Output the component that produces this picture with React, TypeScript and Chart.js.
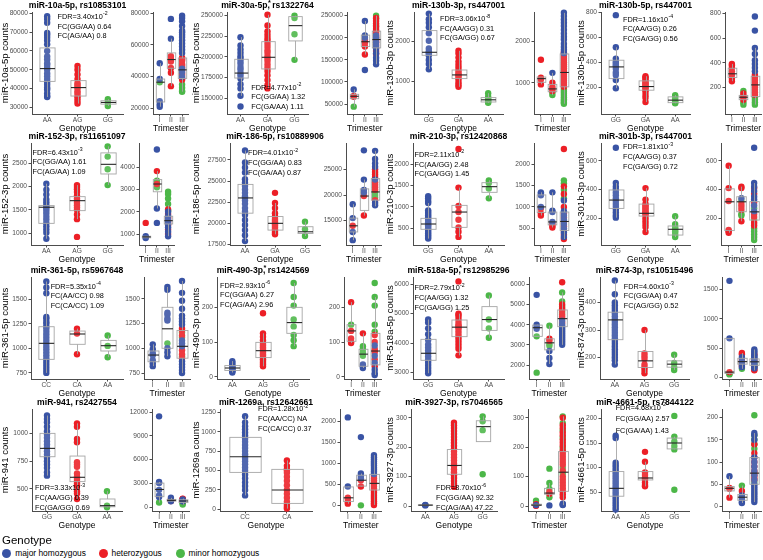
import React, { useEffect, useRef } from 'react';
import { Chart, registerables } from 'chart.js';

Chart.register(...registerables);

const FONT = '"Liberation Sans", Arial, Helvetica, sans-serif';
const COLORS = ['#3953a4', '#ec1f26', '#4cb748'];
const AXIS = '#4d4d4d';
const TICK_TEXT = '#4d4d4d';
const BOX_LINE = '#a6a6a6';
const BOX_FILL = 'rgba(255,255,255,0.12)';
const MEDIAN = '#262626';

const TRIMESTERS = ['I', 'II', 'III'];
const LEGEND_LABELS = ['major homozygous', 'heterozygous', 'minor homozygous'];

// ---------- 1: miR-10a-5p ----------
const m10aLabels = ['AA', 'AG', 'GG'];
const m10aGeno = [
  [78500, 77000, 75000, 69500, 68500, 67000, 65500, 63500, 60000, 57000, 55500, 53500, 52500, 51000, 50000, 48000, 46500, 45000, 43500, 42000, 40500, 39500, 37500, 36000, 35500],
  [52000, 50000, 47500, 45000, 43000, 42000, 41000, 40000, 38500, 37500, 36000, 35000, 33500, 32000],
  [34300, 32600, 30700],
];
const m10aGenoBox = [[35500, 43800, 50600, 61600, 78500], [32000, 36000, 40500, 44200, 52000], [30700, 31700, 32600, 33500, 34300]];
const m10aGenoTicks = [30000, 40000, 50000, 60000, 70000, 80000];
const m10aTri = [
  [[48500, 38500, 24500, 22500, 21000], [], [36500]],
  [[76500, 64000], [53000, 51500, 50500, 49500, 45500, 42500, 34000], []],
  [[78500, 77000, 75000, 72000, 69000, 68000, 66500, 65000, 63000, 61000, 59000, 57000, 55000, 45000, 43000, 40000], [52000, 51000, 50000, 48000, 47000, 46000, 44000, 42000, 41000, 39000, 38000], [35000, 33000, 31000, 30500]],
];
const m10aTriBox = [[21000, 24000, 36500, 38500, 48500], [34000, 45300, 50800, 55000, 64000], [30500, 38800, 44300, 51800, 72000]];
const m10aTriTicks = [20000, 40000, 60000, 80000];
const m10aNotes = ['FDR=3.40x10^-2', 'FC(GG/AA) 0.64', 'FC(AG/AA) 0.8'];

// ---------- 2: miR-30a-5p ----------
const m30aLabels = ['AA', 'GA', 'GG'];
const m30aGeno = [
  [224000, 214000, 209000, 205000, 201000, 198000, 195000, 192000, 188000, 185000, 181000, 178000, 174000, 167000, 162000, 153000, 140000],
  [251000, 238000, 231000, 227000, 223000, 220000, 216000, 212000, 208000, 205000, 201000, 198000, 195000, 191000, 187000, 183000, 178000, 172000, 166000, 162000],
  [250000, 247000, 227500, 196500],
];
const m30aGenoBox = [[153000, 174500, 180500, 197200, 224000], [162000, 185500, 199600, 218500, 251000], [196500, 219400, 237900, 248800, 250000]];
const m30aGenoTicks = [150000, 175000, 200000, 225000, 250000];
const m30aTri = [
  [[83000], [68500, 66500], [44000]],
  [[238000, 205000, 200000, 127000], [197000, 192000, 188000, 180000, 162000], []],
  [[205000, 200000, 190000, 182000, 175000, 165000, 155000, 148000, 140000], [245000, 238000, 232000, 225000, 220000, 215000, 210000, 206000, 202000, 198000, 194000, 190000, 185000, 178000, 170000, 163000], [250000, 243000, 228000, 215000, 200000]],
];
const m30aTriBox = [[44000, 62000, 67500, 72000, 83000], [162000, 180000, 191000, 206000, 238000], [140000, 177000, 196000, 215000, 250000]];
const m30aTriTicks = [50000, 100000, 150000, 200000, 250000];
const m30aNotes = ['FDR=4.77x10^-2', 'FC(GG/AA) 1.32', 'FC(GA/AA) 1.11'];

// ---------- 3: miR-130b-3p ----------
const m130b3Labels = ['GG', 'GA', 'AA'];
const m130b3Geno = [
  [2700, 2560, 2470, 2360, 2210, 2020, 1830, 1760, 1720, 1700, 1650, 1540, 1440, 1310],
  [1770, 1700, 1600, 1500, 1420, 1350, 1280, 1220, 1180, 1150, 1100, 1050, 980, 920, 870],
  [710, 620, 580, 550, 520, 490, 470],
];
const m130b3GenoBox = [[1310, 1658, 1733, 2275, 2700], [870, 1075, 1167, 1290, 1770], [470, 490, 545, 600, 710]];
const m130b3GenoTicks = [1000, 2000];
const m130b3Tri = [
  [[], [1560, 1120, 1080, 960], []],
  [[1240], [1000, 900, 850, 800], [760, 700]],
  [[2700, 2620, 2540, 2460, 2380, 2290, 2200, 2120, 2050, 1950, 1870, 1800, 1720], [1750, 1700, 1650, 1600, 1550, 1500, 1450, 1400, 1350, 1300, 1250, 1200, 1150, 1100, 1050, 1000, 950, 900], [850, 800, 750, 700, 650, 600, 560, 520, 490]],
];
const m130b3TriBox = [[960, 1010, 1100, 1140, 1140], [700, 780, 850, 960, 1240], [490, 900, 1250, 1700, 2700]];
const m130b3TriTicks = [1000, 2000];
const m130b3Notes = ['FDR=3.06x10^-8', 'FC(AA/GG) 0.31', 'FC(GA/GG) 0.67'];

// ---------- 4: miR-130b-5p ----------
const m130b5Labels = ['GG', 'GA', 'AA'];
const m130b5Geno = [
  [775, 520, 430, 405, 395, 380, 370, 350, 320, 300, 260, 195],
  [290, 280, 270, 255, 245, 235, 225, 215, 205, 195, 180, 165, 140, 120, 85],
  [140, 130, 115, 100, 90, 80, 75],
];
const m130b5GenoBox = [[195, 271, 364, 417, 520], [85, 179, 208, 253, 290], [75, 80, 100, 126, 140]];
const m130b5GenoTicks = [200, 400, 600, 800];
const m130b5Tri = [
  [[], [390, 380, 360, 330, 300, 270, 250], []],
  [[], [150, 130, 120, 100], [170, 80, 60]],
  [[775, 660, 520, 470, 420, 390, 360, 330], [300, 280, 260, 240, 220, 200, 180, 160, 140], [120, 100, 80, 60]],
];
const m130b5TriBox = [[250, 280, 310, 355, 390], [60, 100, 120, 135, 170], [60, 125, 220, 290, 520]];
const m130b5TriTicks = [200, 400, 600, 800];
const m130b5Notes = ['FDR=1.16x10^-4', 'FC(AA/GG) 0.26', 'FC(GA/GG) 0.56'];

// ---------- 5: miR-152-3p ----------
const m152Labels = ['AA', 'AG', 'GG'];
const m152Geno = [
  [2060, 1930, 1830, 1720, 1660, 1600, 1560, 1530, 1480, 1420, 1350, 1290, 1220, 1150, 1080, 1010, 880],
  [2030, 1990, 1940, 1880, 1800, 1740, 1700, 1650, 1600, 1550, 1500, 1400, 1300, 920],
  [2860, 2640, 2370, 2030],
];
const m152GenoBox = [[880, 1210, 1555, 1590, 2060], [1300, 1482, 1696, 1782, 2030], [2030, 2268, 2475, 2720, 2860]];
const m152GenoTicks = [1000, 1500, 2000, 2500];
const m152Tri = [
  [[900, 860, 820], [1500], []],
  [[4800, 2150, 1500], [3830, 3250], [3400, 3350, 3100]],
  [[2000, 1800, 1650, 1550, 1450, 1300, 1100, 900], [2100, 1900, 1750, 1700, 1600, 1500, 1400, 1200, 1000], [2900, 2800, 2600, 2350, 2050]],
];
const m152TriBox = [[820, 830, 870, 900, 900], [2150, 2900, 3250, 3450, 3830], [900, 1450, 1600, 1800, 2300]];
const m152TriTicks = [1000, 2000, 3000, 4000];
const m152Notes = ['FDR=6.43x10^-3', 'FC(GG/AA) 1.61', 'FC(AG/AA) 1.09'];

// ---------- 6: miR-186-5p ----------
const m186Labels = ['AA', 'GA', 'GG'];
const m186Geno = [
  [28600, 27200, 26600, 26000, 25200, 24800, 24400, 24000, 23600, 23200, 23000, 22700, 22300, 21800, 21400, 21000, 20400, 19800, 19200, 18600, 17900],
  [23600, 22400, 21800, 21200, 20800, 20500, 20300, 20100, 19900, 19700, 19500, 19300, 19100, 18900, 18700],
  [20200, 19300, 18500],
];
const m186GenoBox = [[17900, 21200, 23000, 24600, 28600], [18700, 19200, 20000, 20800, 22400], [18500, 18800, 19000, 19600, 20200]];
const m186GenoTicks = [17500, 20000, 22500, 25000, 27500];
const m186Tri = [
  [[18200, 15500, 12800, 11200], [14000], []],
  [[28700, 23000, 21000, 20500], [19800, 16000], []],
  [[28600, 27000, 26200, 25500, 23000, 18500, 18000], [25000, 24500, 24000, 23500, 22500, 22000, 21500, 21000, 19000], [20500, 20000, 19500]],
];
const m186TriBox = [[11200, 12800, 14000, 15500, 18200], [16000, 17000, 19800, 21200, 23000], [17800, 19000, 20600, 23200, 28600]];
const m186TriTicks = [15000, 20000, 25000];
const m186Notes = ['FDR=4.01x10^-2', 'FC(GG/AA) 0.83', 'FC(GA/AA) 0.87'];

// ---------- 7: miR-210-3p ----------
const m210Labels = ['GG', 'GA', 'AA'];
const m210Geno = [
  [1250, 1200, 1140, 1090, 920, 880, 840, 800, 760, 720, 680, 640, 600, 570, 540, 500, 460, 420, 380, 340, 300, 260],
  [2350, 1450, 1020, 880, 700, 520, 420, 300],
  [1620, 1560, 1430, 1200],
];
const m210GenoBox = [[260, 477, 601, 733, 1090], [300, 523, 880, 1036, 1450], [1200, 1340, 1472, 1565, 1620]];
const m210GenoTicks = [500, 1000, 1500, 2000];
const m210Tri = [
  [[1340, 1310, 1270, 1000], [960, 850, 800], []],
  [[1340, 910, 880, 650], [600, 560, 520], []],
  [[1150, 900, 800, 700, 600, 500, 400, 300], [2350, 1480, 1300, 1000, 850, 750, 650, 550, 450, 350, 250], [1620, 1550, 1400, 1200]],
];
const m210TriBox = [[800, 870, 1000, 1280, 1340], [520, 580, 650, 880, 1340], [250, 450, 660, 880, 1480]];
const m210TriTicks = [500, 1000, 1500, 2000];
const m210Notes = ['FDR=2.11x10^-2', 'FC(AA/GG) 2.48', 'FC(GA/GG) 1.45'];

// ---------- 8: miR-301b-3p ----------
const m301Labels = ['GG', 'GA', 'AA'];
const m301Geno = [
  [690, 445, 420, 400, 380, 360, 340, 320, 300, 280, 260, 240, 220, 205],
  [410, 330, 300, 290, 280, 270, 260, 250, 240, 230, 220, 200, 180, 160, 140, 105],
  [215, 160, 140, 130, 120, 110, 100, 85, 70],
];
const m301GenoBox = [[205, 269, 327, 397, 445], [105, 216, 235, 299, 410], [70, 84, 124, 147, 215]];
const m301GenoTicks = [200, 400, 600];
const m301Tri = [
  [[], [565, 410, 320, 120, 110, 100], []],
  [[340], [420, 410, 300, 280, 260, 180], [320, 230, 220]],
  [[690, 445, 420, 390, 350, 330, 290, 250], [410, 370, 310, 230, 210, 170, 150], [270, 190, 130, 110, 90, 70, 50]],
];
const m301TriBox = [[100, 115, 315, 405, 565], [180, 246, 315, 350, 420], [50, 188, 245, 316, 445]];
const m301TriTicks = [200, 400, 600];
const m301Notes = ['FDR=1.81x10^-3', 'FC(AA/GG) 0.37', 'FC(GA/GG) 0.72'];

// ---------- 9: miR-361-5p ----------
const m361Labels = ['CC', 'CA', 'AA'];
const m361Geno = [
  [1680, 1620, 1560, 1320, 1300, 1270, 1250, 1220, 1200, 1170, 1140, 1110, 1080, 1050, 1020, 990, 960, 930, 900, 870, 840, 810, 780, 750],
  [1200, 1150, 940],
  [1130, 1025, 910],
];
const m361GenoBox = [[750, 888, 1051, 1220, 1680], [940, 1041, 1146, 1176, 1200], [910, 973, 1027, 1081, 1130]];
const m361GenoTicks = [750, 1000, 1250, 1500];
const m361Tri = [
  [[1040, 990, 950, 930, 880, 850, 820], [], []],
  [[1620, 1590, 1360, 1340, 1300, 1280, 1000, 960, 920], [], [1050]],
  [[1680, 1560, 1480, 1400, 1330, 1300, 1270, 1240, 1080, 1050, 1020, 870, 840, 810, 780, 750], [1200, 1180, 1130, 980, 940, 900], [1160, 1110, 920]],
];
const m361TriBox = [[820, 864, 932, 973, 1040], [920, 1000, 1197, 1414, 1620], [750, 900, 1020, 1180, 1680]];
const m361TriTicks = [750, 1000, 1250, 1500];
const m361Notes = ['FDR=5.35x10^-4', 'FC(AA/CC) 0.98', 'FC(CA/CC) 1.09'];

// ---------- 10: miR-490-3p ----------
const m490Labels = ['AA', 'AG', 'GG'];
const m490Geno = [
  [45, 40, 35, 30, 27, 25, 22, 20, 18, 15, 12],
  [183, 125, 115, 105, 95, 90, 85, 80, 75, 70, 65, 60, 55, 50, 45, 40, 35, 30],
  [270, 230, 205, 165, 145, 120, 105, 88],
];
const m490GenoBox = [[12, 18, 25, 32, 45], [30, 55, 75, 99, 125], [88, 125, 156, 200, 270]];
const m490GenoTicks = [0, 100, 200];
const m490Tri = [
  [[], [215, 132, 110, 100, 97], [150]],
  [[35, 30, 25], [125], [88, 80, 70, 60]],
  [[90, 60, 40, 20, 10, 5], [120, 100, 80, 75, 70, 50, 30], [270, 230, 205, 150, 130]],
];
const m490TriBox = [[97, 102, 132, 150, 215], [25, 30, 65, 79, 125], [5, 34, 74, 125, 230]];
const m490TriTicks = [0, 100, 200];
const m490Notes = ['FDR=2.93x10^-6', 'FC(GG/AA) 6.27', 'FC(AG/AA) 2.96'];

// ---------- 11: miR-518a-5p ----------
const m518Labels = ['GG', 'GA', 'AA'];
const m518Geno = [
  [4800, 4700, 4500, 4300, 4100, 3950, 3850, 3750, 3650, 3550, 3450, 3350, 3250, 3150, 3050, 2970],
  [6100, 5000, 4950, 4850, 4750, 4650, 4600, 4550, 4500, 4400, 4300, 4200, 4100, 4000, 3900, 3800, 3580],
  [5620, 4800, 4500, 4180],
];
const m518GenoBox = [[2970, 3410, 3650, 4125, 4800], [3580, 4216, 4540, 4784, 5000], [4180, 4430, 4800, 5240, 5620]];
const m518GenoTicks = [3000, 4000, 5000, 6000];
const m518Tri = [
  [[5480, 4000, 3900, 3800], [], [3420, 1620]],
  [[2700, 2350, 2050], [3300, 3200], [3950, 3050, 2950]],
  [[4200, 4000, 3900, 3800, 3700, 3600, 3500, 3400, 3300, 3200, 3100, 3000], [6100, 5000, 4800, 4700, 4500, 4400, 4300, 4100], [5600, 5150, 4900, 4600]],
];
const m518TriBox = [[3400, 3420, 3850, 3980, 4000], [2050, 2750, 3100, 3300, 3950], [3000, 3900, 4300, 4730, 5600]];
const m518TriTicks = [2000, 3000, 4000, 5000, 6000];
const m518Notes = ['FDR=2.79x10^-2', 'FC(AA/GG) 1.32', 'FC(GA/GG) 1.25'];

// ---------- 12: miR-874-3p ----------
const m874Labels = ['AA', 'AG', 'GG'];
const m874Geno = [
  [480, 430, 400, 390, 380, 370, 360, 350, 340, 330, 320, 310, 300, 290, 280, 270, 260, 250, 240, 230, 220, 210, 200, 190, 175],
  [300, 215, 205, 195, 175, 165, 155, 143],
  [210, 180, 165, 155],
];
const m874GenoBox = [[175, 265, 337, 365, 480], [143, 164, 188, 222, 300], [155, 165, 176, 188, 210]];
const m874GenoTicks = [200, 300, 400];
const m874Tri = [
  [[1650, 670], [95], [65, 55]],
  [[350, 280, 220, 180], [420, 400, 300, 260, 200], [240, 150]],
  [[480, 450, 420, 380, 360, 340, 320, 280, 260, 220, 180, 160], [400, 300, 200, 140, 125], [240, 220, 200, 180]],
];
const m874TriBox = [[55, 70, 95, 670, 670], [150, 230, 273, 330, 420], [125, 210, 270, 320, 480]];
const m874TriTicks = [0, 500, 1000, 1500];
const m874Notes = ['FDR=4.60x10^-3', 'FC(GG/AA) 0.47', 'FC(AG/GG) 0.52'];

// ---------- 13: miR-941 ----------
const m941Labels = ['GG', 'GA', 'AA'];
const m941Geno = [
  [1160, 1130, 1100, 1060, 1020, 990, 960, 930, 900, 870, 840, 810, 780, 750, 720, 690, 650, 620],
  [1090, 1060, 950, 920, 740, 720, 700, 640, 610, 590, 570, 550, 530, 480, 460, 410],
  [480, 350, 335],
];
const m941GenoBox = [[620, 790, 865, 1000, 1160], [410, 566, 605, 796, 1090], [335, 340, 350, 410, 480]];
const m941GenoTicks = [500, 750, 1000];
const m941Tri = [
  [[11450, 3200, 3050, 2200, 1500, 1300], [], [600]],
  [[1200, 750], [1000, 900, 850, 800], []],
  [[1000, 750], [1100, 1050, 950, 900, 800], [650, 500, 350]],
];
const m941TriBox = [[600, 1340, 2250, 3050, 3200], [750, 780, 880, 1000, 1200], [350, 600, 800, 950, 1100]];
const m941TriTicks = [0, 3000, 6000, 9000, 12000];
const m941Notes = ['FDR=3.33x10^-3', 'FC(AA/GG) 0.39', 'FC(GA/GG) 0.69'];

// ---------- 14: miR-1269a ----------
const m1269Labels = ['CC', 'CA'];
const m1269Geno = [
  [1200, 1120, 1070, 1030, 990, 950, 910, 870, 830, 790, 750, 710, 680, 650, 620, 580, 540, 500, 450, 400, 350, 300, 250, 180],
  [630, 560, 520, 500, 470, 420, 370, 310, 250, 200, 150, 100, 60, 30, 10],
];
const m1269GenoBox = [[180, 476, 678, 927, 1200], [10, 77, 249, 515, 630]];
const m1269GenoTicks = [0, 250, 500, 750, 1000, 1250];
const m1269Tri = [
  [[2100, 450], [180, 150, 80, 40], []],
  [[1630, 760, 700, 650], [600, 450], [0]],
  [[1200, 1150, 1100, 1050, 1000, 950, 900, 850, 800, 750], [700, 650, 600, 550, 500, 450, 400, 350, 300, 250, 200, 150, 100, 50, 10], []],
];
const m1269TriBox = [[40, 90, 180, 440, 450], [450, 460, 600, 720, 760], [10, 366, 525, 740, 1200]];
const m1269TriTicks = [0, 500, 1000, 1500, 2000];
const m1269Notes = ['FDR=1.28x10^-2', 'FC(AA/CC) NA', 'FC(CA/CC) 0.37'];

// ---------- 15: miR-3927-3p ----------
const m3927Labels = ['AA', 'AG', 'GG'];
const m3927Geno = [
  [4, 3, 2],
  [283, 275, 265, 255, 245, 235, 225, 215, 205, 195, 185, 175, 165, 155, 145, 135, 125, 115, 105, 95, 85, 75, 65],
  [305, 288, 258, 108],
];
const m3927GenoBox = [[2, 2.5, 3, 3.5, 4], [65, 108, 138, 192, 283], [219, 219, 270, 290, 305]];
const m3927GenoTicks = [0, 100, 200, 300];
const m3927Tri = [
  [[3], [6, 2, 1], [18]],
  [[2], [48, 42], [127, 78, 58, 30]],
  [[8, 5, 3], [300, 275, 265, 250, 240, 225, 215, 205, 190, 180, 170, 160, 150, 140, 120, 100, 90, 80, 70, 60, 50, 40, 30], [305, 282, 258, 232, 198, 130, 110]],
];
const m3927TriBox = [[1, 2, 3, 6, 6], [29, 40, 44, 60, 78], [3, 50, 115, 185, 305]];
const m3927TriTicks = [0, 100, 200, 300];
const m3927Notes = ['FDR=8.70x10^-6', 'FC(GG/AA) 92.32', 'FC(AG/AA) 47.22'];

// ---------- 16: miR-4661-5p ----------
const m4661Labels = ['AA', 'AG', 'GG'];
const m4661Geno = [
  [165, 160, 110, 105, 100, 95, 90, 85, 80, 75, 70, 65, 60, 55, 50, 45, 40, 35, 30, 25, 20, 15],
  [132, 112, 90, 85, 80, 78, 75, 70, 65, 62],
  [205, 163, 153, 144, 137, 55],
];
const m4661GenoBox = [[15, 42, 58, 92, 160], [62, 75, 79, 92, 112], [137, 138, 150, 160, 163]];
const m4661GenoTicks = [50, 100, 150, 200];
const m4661Tri = [
  [[68], [42, 40, 20], []],
  [[25, 20, 15, 10, 8], [35], [47]],
  [[165, 160, 150, 110, 100, 90, 80, 70, 60, 50, 45, 40, 35, 30, 25, 20, 15, 10], [140, 120, 110, 100, 90, 80, 75, 70, 65, 60], [205, 160, 150, 140, 130, 55]],
];
const m4661TriBox = [[20, 35, 41, 45, 68], [8, 14, 21, 27, 47], [10, 50, 75, 110, 165]];
const m4661TriTicks = [0, 50, 100, 150, 200];
const m4661Notes = ['FDR=4.68x10^-2', 'FC(GG/AA) 2.57', 'FC(GA/AA) 1.43'];

const PANELS = [
  { title: 'miR-10a-5p, rs10853101', yTitle: 'miR-10a-5p counts', labels: m10aLabels, geno: m10aGeno, genoBox: m10aGenoBox, genoTicks: m10aGenoTicks, tri: m10aTri, triBox: m10aTriBox, triTicks: m10aTriTicks, notes: m10aNotes },
  { title: 'miR-30a-5p*, rs1322764', yTitle: 'miR-30a-5p counts', labels: m30aLabels, geno: m30aGeno, genoBox: m30aGenoBox, genoTicks: m30aGenoTicks, tri: m30aTri, triBox: m30aTriBox, triTicks: m30aTriTicks, notes: m30aNotes },
  { title: 'miR-130b-3p, rs447001', yTitle: 'miR-130b-3p counts', labels: m130b3Labels, geno: m130b3Geno, genoBox: m130b3GenoBox, genoTicks: m130b3GenoTicks, tri: m130b3Tri, triBox: m130b3TriBox, triTicks: m130b3TriTicks, notes: m130b3Notes },
  { title: 'miR-130b-5p, rs447001', yTitle: 'miR-130b-5p counts', labels: m130b5Labels, geno: m130b5Geno, genoBox: m130b5GenoBox, genoTicks: m130b5GenoTicks, tri: m130b5Tri, triBox: m130b5TriBox, triTicks: m130b5TriTicks, notes: m130b5Notes },
  { title: 'miR-152-3p, rs11651097', yTitle: 'miR-152-3p counts', labels: m152Labels, geno: m152Geno, genoBox: m152GenoBox, genoTicks: m152GenoTicks, tri: m152Tri, triBox: m152TriBox, triTicks: m152TriTicks, notes: m152Notes },
  { title: 'miR-186-5p, rs10889906', yTitle: 'miR-186-5p counts', labels: m186Labels, geno: m186Geno, genoBox: m186GenoBox, genoTicks: m186GenoTicks, tri: m186Tri, triBox: m186TriBox, triTicks: m186TriTicks, notes: m186Notes },
  { title: 'miR-210-3p*, rs12420868', yTitle: 'miR-210-3p counts', labels: m210Labels, geno: m210Geno, genoBox: m210GenoBox, genoTicks: m210GenoTicks, tri: m210Tri, triBox: m210TriBox, triTicks: m210TriTicks, notes: m210Notes },
  { title: 'miR-301b-3p, rs447001', yTitle: 'miR-301b-3p counts', labels: m301Labels, geno: m301Geno, genoBox: m301GenoBox, genoTicks: m301GenoTicks, tri: m301Tri, triBox: m301TriBox, triTicks: m301TriTicks, notes: m301Notes },
  { title: 'miR-361-5p, rs5967648', yTitle: 'miR-361-5p counts', labels: m361Labels, geno: m361Geno, genoBox: m361GenoBox, genoTicks: m361GenoTicks, tri: m361Tri, triBox: m361TriBox, triTicks: m361TriTicks, notes: m361Notes },
  { title: 'miR-490-3p*, rs1424569', yTitle: 'miR-490-3p counts', labels: m490Labels, geno: m490Geno, genoBox: m490GenoBox, genoTicks: m490GenoTicks, tri: m490Tri, triBox: m490TriBox, triTicks: m490TriTicks, notes: m490Notes },
  { title: 'miR-518a-5p*, rs12985296', yTitle: 'miR-518a-5p counts', labels: m518Labels, geno: m518Geno, genoBox: m518GenoBox, genoTicks: m518GenoTicks, tri: m518Tri, triBox: m518TriBox, triTicks: m518TriTicks, notes: m518Notes },
  { title: 'miR-874-3p, rs10515496', yTitle: 'miR-874-3p counts', labels: m874Labels, geno: m874Geno, genoBox: m874GenoBox, genoTicks: m874GenoTicks, tri: m874Tri, triBox: m874TriBox, triTicks: m874TriTicks, notes: m874Notes },
  { title: 'miR-941, rs2427554', yTitle: 'miR-941 counts', labels: m941Labels, geno: m941Geno, genoBox: m941GenoBox, genoTicks: m941GenoTicks, tri: m941Tri, triBox: m941TriBox, triTicks: m941TriTicks, notes: m941Notes },
  { title: 'miR-1269a, rs12642661', yTitle: 'miR-1269a counts', labels: m1269Labels, geno: m1269Geno, genoBox: m1269GenoBox, genoTicks: m1269GenoTicks, tri: m1269Tri, triBox: m1269TriBox, triTicks: m1269TriTicks, notes: m1269Notes },
  { title: 'miR-3927-3p, rs7046565', yTitle: 'miR-3927-3p counts', labels: m3927Labels, geno: m3927Geno, genoBox: m3927GenoBox, genoTicks: m3927GenoTicks, tri: m3927Tri, triBox: m3927TriBox, triTicks: m3927TriTicks, notes: m3927Notes },
  { title: 'miR-4661-5p, rs7844122', yTitle: 'miR-4661-5p counts', labels: m4661Labels, geno: m4661Geno, genoBox: m4661GenoBox, genoTicks: m4661GenoTicks, tri: m4661Tri, triBox: m4661TriBox, triTicks: m4661TriTicks, notes: m4661Notes },
];

// ---------- layout (pixel geometry, axis ranges, note anchors) ----------
const PLOT_TOPS = [12, 143, 277, 409];
const PLOT_H = 102;
const TOP_PAD = 14;
const X_AXIS_H = 22;
const CANVAS_H = TOP_PAD + PLOT_H + X_AXIS_H;
const BLOCK_LEFT = [0, 191, 385, 576];
const GENO_EXTRA = 40;
const LAYOUT = [
  { g: [32, 123], t: [153, 189], gy: [26450, 80700], ty: [16400, 80850], note: [1.34, 78050, 9.6] },
  { g: [227, 308], t: [347, 383], gy: [131000, 254400], ty: [27400, 258300], note: [1.4, 162900, 9.6] },
  { g: [414, 503], t: [534, 571], gy: [190, 2740], ty: [240, 2720], note: [1.38, 2558, 9.6] },
  { g: [601, 690], t: [725, 762], gy: [-10, 800], ty: [-16, 811], note: [1.24, 739, 9.6] },
  { g: [31, 123], t: [139, 175], gy: [746, 2932], ty: [505, 5095], note: [0.55, 2725, 9.6] },
  { g: [230, 320], t: [346, 382], gy: [17440, 29490], ty: [10260, 30130], note: [1.1, 28268, 9.6] },
  { g: [413, 504], t: [534, 571], gy: [111, 2491], ty: [111, 2491], note: [0.55, 2211, 9.6] },
  { g: [601, 690], t: [721, 762], gy: [15, 723], ty: [15, 723], note: [1.24, 692, 9.6] },
  { g: [31, 123], t: [144, 191], gy: [688, 1726], ty: [690, 1720], note: [1.14, 1627, 9.6] },
  { g: [217, 309], t: [344, 382], gy: [-6.7, 287.5], ty: [-6.7, 287.5], note: [0.6, 262.5, 9.6] },
  { g: [413, 504], t: [529, 570], gy: [2773, 6250], ty: [1306, 6364], note: [0.55, 5864, 9.6] },
  { g: [600, 689], t: [722, 762], gy: [122, 493], ty: [-23, 1716], note: [1.3, 458, 9.6] },
  { g: [32, 122], t: [152, 190], gy: [302, 1219], ty: [-462, 12378], note: [0.6, 506, 9.6] },
  { g: [220, 312], t: [340, 382], gy: [-21, 1292], ty: [-135, 2301], note: [1.31, 1287, 9.6] },
  { g: [411, 497], t: [528, 571], gy: [-17, 330], ty: [-17, 330], note: [1.37, 60, 9.6] },
  { g: [601, 689], t: [722, 762], gy: [12, 219], ty: [-10, 219], note: [1.0, 222, 11.5] },
];
const LEGEND_X = [6.7, 103, 180];

type Pt = { x: number; y: number };
type Spec = {
  left: number; top: number; width: number; axisW: number; padRight: number;
  labels: string[]; pts: Pt[][]; boxes: number[][];
  xMin: number; xMax: number; boxW: number;
  yMin: number; yMax: number; yTicks: number[];
  xTitle: string; yTitle?: string; title?: string; notes?: string[]; note?: number[];
};

function buildSpecs(): Spec[] {
  const specs: Spec[] = [];
  PANELS.forEach((p, i) => {
    const L = LAYOUT[i];
    const row = Math.floor(i / 4);
    const col = i % 4;
    const top = PLOT_TOPS[row] - TOP_PAD;
    const gPts: Pt[][] = [[], [], []];
    p.geno.forEach((vals, c) => vals.forEach((v) => gPts[c].push({ x: c + 1, y: v })));
    const n = p.labels.length;
    const gl = BLOCK_LEFT[col];
    specs.push({
      left: gl, top, width: L.g[1] + GENO_EXTRA - gl, axisW: L.g[0] - gl, padRight: GENO_EXTRA,
      labels: p.labels, pts: gPts, boxes: p.genoBox,
      xMin: n === 2 ? 0.4 : 0.5, xMax: n === 2 ? 2.6 : 3.5, boxW: n === 2 ? 0.75 : 0.5,
      yMin: L.gy[0], yMax: L.gy[1], yTicks: p.genoTicks,
      xTitle: 'Genotype', yTitle: p.yTitle, title: p.title, notes: p.notes, note: L.note,
    });
    const tPts: Pt[][] = [[], [], []];
    p.tri.forEach((byColor, t) => byColor.forEach((vals, c) => vals.forEach((v) => tPts[c].push({ x: t + 1, y: v }))));
    const tl = L.t[0] - 30;
    specs.push({
      left: tl, top, width: L.t[1] + 3 - tl, axisW: 30, padRight: 3,
      labels: TRIMESTERS, pts: tPts, boxes: p.triBox,
      xMin: 0.4, xMax: 3.6, boxW: 0.75,
      yMin: L.ty[0], yMax: L.ty[1], yTicks: p.triTicks,
      xTitle: 'Trimester',
    });
  });
  return specs;
}

const SPECS = buildSpecs();

function drawTitle(ctx: CanvasRenderingContext2D, title: string, cx: number, y: number) {
  const size = 8.6;
  ctx.font = `bold ${size}px ${FONT}`;
  ctx.fillStyle = '#000';
  ctx.textAlign = 'left';
  ctx.textBaseline = 'middle';
  const star = title.indexOf('*');
  if (star < 0) {
    const w = ctx.measureText(title).width;
    ctx.fillText(title, cx - w / 2, y);
    return;
  }
  const a = title.slice(0, star);
  const b = title.slice(star + 1);
  const wa = ctx.measureText(a).width;
  const wb = ctx.measureText(b).width;
  const x0 = cx - (wa + wb) / 2;
  ctx.fillText(a, x0, y);
  ctx.fillText(b, x0 + wa, y);
  ctx.font = `bold ${size * 0.85}px ${FONT}`;
  ctx.fillText('*', x0 + wa + 0.6, y - size * 0.38);
}

function drawNote(ctx: CanvasRenderingContext2D, text: string, x: number, y: number) {
  const parts = text.split('^');
  ctx.font = `7.3px ${FONT}`;
  ctx.fillStyle = '#000';
  ctx.textAlign = 'left';
  ctx.textBaseline = 'middle';
  ctx.fillText(parts[0], x, y);
  if (parts[1]) {
    const w = ctx.measureText(parts[0]).width;
    ctx.font = `5.2px ${FONT}`;
    ctx.fillText(parts[1], x + w + 0.3, y - 3);
  }
}

function makeConfig(s: Spec): any {
  const tickFont = { family: FONT, size: 6.6 };
  const decor = {
    id: 'panelDecor',
    afterDatasetsDraw(chart: any) {
      const { ctx, chartArea, scales } = chart;
      const xs = scales.x;
      const ys = scales.y;
      ctx.save();
      s.boxes.forEach((b, i) => {
        const [lo, q1, md, q3, hi] = b;
        const cx = Math.round(xs.getPixelForValue(i + 1)) + 0.5;
        const hw = Math.abs(xs.getPixelForValue(i + 1 + s.boxW / 2) - xs.getPixelForValue(i + 1));
        const pLo = ys.getPixelForValue(lo);
        const pQ1 = ys.getPixelForValue(q1);
        const pMd = ys.getPixelForValue(md);
        const pQ3 = ys.getPixelForValue(q3);
        const pHi = ys.getPixelForValue(hi);
        ctx.strokeStyle = BOX_LINE;
        ctx.lineWidth = 0.9;
        ctx.beginPath();
        ctx.moveTo(cx, pHi);
        ctx.lineTo(cx, pQ3);
        ctx.moveTo(cx, pQ1);
        ctx.lineTo(cx, pLo);
        ctx.stroke();
        ctx.fillStyle = BOX_FILL;
        ctx.fillRect(cx - hw, pQ3, 2 * hw, pQ1 - pQ3);
        ctx.strokeRect(cx - hw, pQ3, 2 * hw, pQ1 - pQ3);
        ctx.strokeStyle = MEDIAN;
        ctx.lineWidth = 1.1;
        ctx.beginPath();
        ctx.moveTo(cx - hw, pMd);
        ctx.lineTo(cx + hw, pMd);
        ctx.stroke();
      });
      if (s.title) drawTitle(ctx, s.title, (chartArea.left + chartArea.right) / 2, chartArea.top - 6);
      if (s.notes && s.note) {
        const nx = xs.getPixelForValue(s.note[0]);
        const ny = ys.getPixelForValue(s.note[1]);
        s.notes.forEach((t, k) => drawNote(ctx, t, nx, ny + k * s.note![2]));
      }
      ctx.restore();
    },
  };
  return {
    type: 'scatter',
    data: {
      datasets: s.pts.map((pts, ci) => ({
        label: LEGEND_LABELS[ci],
        data: pts,
        showLine: false,
        pointRadius: 3.2,
        pointHoverRadius: 3.2,
        pointBackgroundColor: COLORS[ci],
        pointBorderWidth: 0,
        borderColor: COLORS[ci],
        backgroundColor: COLORS[ci],
        clip: false,
      })),
    },
    options: {
      responsive: false,
      animation: false,
      events: [],
      layout: { padding: { left: 0, right: s.padRight, top: TOP_PAD, bottom: 0 } },
      plugins: { legend: { display: false }, tooltip: { enabled: false }, title: { display: false } },
      scales: {
        x: {
          type: 'linear',
          bounds: 'data',
          min: s.xMin,
          max: s.xMax,
          afterBuildTicks: (sc: any) => { sc.ticks = s.labels.map((_, i) => ({ value: i + 1 })); },
          afterFit: (sc: any) => { sc.height = X_AXIS_H; },
          ticks: {
            callback: (v: number) => s.labels[Math.round(v) - 1] ?? '',
            font: tickFont, color: TICK_TEXT, padding: 0, maxRotation: 0, autoSkip: false,
          },
          grid: { drawOnChartArea: false, drawTicks: true, tickLength: 2.5, color: AXIS, tickColor: AXIS },
          border: { display: true, color: AXIS, width: 1 },
          title: { display: true, text: s.xTitle, color: '#000', font: { family: FONT, size: 8.5 }, padding: { top: 0, bottom: 2.4 } },
        },
        y: {
          type: 'linear',
          bounds: 'data',
          min: s.yMin,
          max: s.yMax,
          afterBuildTicks: (sc: any) => { sc.ticks = s.yTicks.map((v) => ({ value: v })); },
          afterFit: (sc: any) => { sc.width = s.axisW; },
          ticks: { callback: (v: number) => String(v), font: tickFont, color: TICK_TEXT, padding: 1.5, autoSkip: false },
          grid: { drawOnChartArea: false, drawTicks: true, tickLength: 2.5, color: AXIS, tickColor: AXIS },
          border: { display: true, color: AXIS, width: 1 },
          title: { display: !!s.yTitle, text: s.yTitle || '', color: '#000', font: { family: FONT, size: 9.5 }, padding: { top: 0, bottom: 0 } },
        },
      },
    },
    plugins: [decor],
  };
}

function Panel({ spec }: { spec: Spec }) {
  const ref = useRef<HTMLCanvasElement | null>(null);
  useEffect(() => {
    if (!ref.current) return;
    const chart = new Chart(ref.current, makeConfig(spec));
    return () => chart.destroy();
  }, [spec]);
  return (
    <canvas
      ref={ref}
      width={spec.width}
      height={CANVAS_H}
      style={{ position: 'absolute', left: spec.left, top: spec.top, width: spec.width, height: CANVAS_H }}
    />
  );
}

function Legend() {
  return (
    <>
      <div style={{ position: 'absolute', left: 2, top: 533, font: `11.5px ${FONT}`, lineHeight: '14px', color: '#000', whiteSpace: 'nowrap' }}>Genotype</div>
      {LEGEND_LABELS.map((t, i) => (
        <React.Fragment key={t}>
          <div style={{ position: 'absolute', left: LEGEND_X[i] - 4.5, top: 553 - 4.5, width: 9, height: 9, borderRadius: '50%', background: COLORS[i] }} />
          <div style={{ position: 'absolute', left: LEGEND_X[i] + 8.5, top: 553 - 5.5, font: `8.4px ${FONT}`, lineHeight: '11px', color: '#000', whiteSpace: 'nowrap' }}>{t}</div>
        </React.Fragment>
      ))}
    </>
  );
}

export default function App() {
  return (
    <div style={{ position: 'absolute', left: 0, top: 0, width: 763, height: 560, background: '#fff', overflow: 'hidden' }}>
      {SPECS.map((s, i) => <Panel key={i} spec={s} />)}
      <Legend />
    </div>
  );
}
